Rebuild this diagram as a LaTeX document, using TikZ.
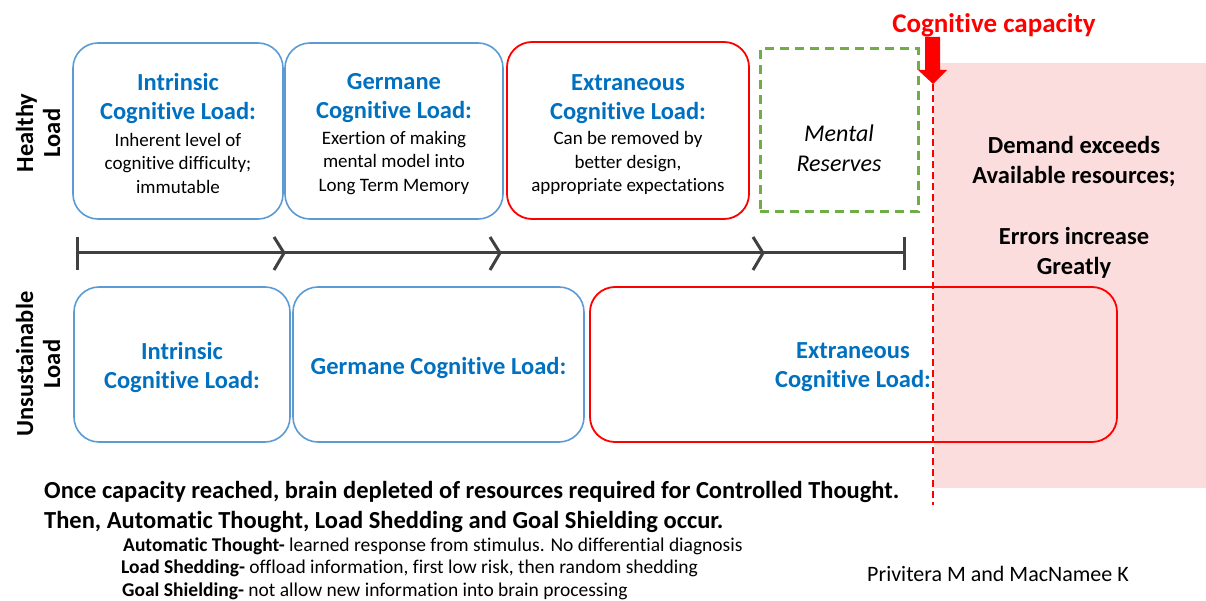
\documentclass[tikz,border=0pt]{standalone}
\usepackage{fontspec}
\setmainfont{Carlito}[Ligatures=NoCommon]
\definecolor{boxblue}{HTML}{5B9BD5}
\definecolor{txtblue}{HTML}{0070C0}
\definecolor{capred}{HTML}{FF0000}
\definecolor{resgreen}{HTML}{70AD47}
\definecolor{bandpink}{RGB}{252,221,221}
\definecolor{linegray}{HTML}{404040}
\begin{document}
\begin{tikzpicture}[x=1pt,y=-1pt,
  bluebox/.style={draw=boxblue, line width=1.6pt, rounded corners=25pt, inner sep=0pt},
  redbox/.style={draw=capred, line width=1.8pt, rounded corners=25pt, inner sep=0pt},
  resbox/.style={draw=resgreen, line width=3pt, dash pattern=on 9pt off 6pt, inner sep=0pt},
  ttl/.style={text=txtblue, font=\fontsize{24.5}{29}\selectfont\bfseries, align=center, inner sep=0pt},
  bdy/.style={font=\fontsize{19}{23.5}\selectfont, align=center, inner sep=0pt},
  side/.style={font=\fontsize{24.5}{27}\selectfont\bfseries, align=center, inner sep=0pt, rotate=90},
  bigtxt/.style={font=\fontsize{24.5}{30}\selectfont\bfseries, align=center, inner sep=0pt},
  smalltxt/.style={font=\fontsize{19.5}{22.5}\selectfont, anchor=west, inner sep=0pt},
  tline/.style={draw=linegray, line width=3pt},
  capline/.style={draw=capred, line width=2pt, dash pattern=on 7pt off 4pt}
]
\useasboundingbox (0,0) rectangle (1206,601);
% pink band
\fill[bandpink] (934,63) rectangle (1206,488);

% top row
\node[bluebox, minimum width=210pt, minimum height=176pt] (h1) at (178,131) {};
\node[bluebox, minimum width=218pt, minimum height=176pt] (h2) at (394,131) {};
\node[redbox, minimum width=242pt, minimum height=177pt] (h3) at (628,130.5) {};
\node[resbox, minimum width=158pt, minimum height=163pt] (h4) at (839,130.5) {};

\node[ttl] (h1t) at (178,98.5) {Intrinsic\\Cognitive Load:};
\node[bdy] (h1b) at (178,163) {Inherent level of\\cognitive difficulty;\\immutable};
\node[ttl] (h2t) at (394,98.5) {Germane\\Cognitive Load:};
\node[bdy] (h2b) at (394,163) {Exertion of making\\mental model into\\Long Term Memory};
\node[ttl] (h3t) at (628,99) {Extraneous\\Cognitive Load:};
\node[bdy] (h3b) at (628,163) {Can be removed by\\better design,\\appropriate expectations};
\node[font=\fontsize{24}{30}\selectfont\itshape, align=center, inner sep=0pt] (h4t) at (839,148) {Mental\\Reserves};

% side labels
\node[side] (hl) at (38,133) {Healthy\\Load};
\node[side] (ul) at (38,364) {Unsustainable\\Load};

% timeline
\coordinate (tl0) at (77,253);
\coordinate (tl1) at (904,253);
\draw[tline] (tl0) -- (tl1);
\draw[tline] (77,237) -- (77,270);
\draw[tline] (904,237) -- (904,270);
\draw[tline, line join=miter] (274,237) -- (284,253) -- (274,270);
\draw[tline, line join=miter] (490,237) -- (500,253) -- (490,270);
\draw[tline, line join=miter] (753,237) -- (763,253) -- (753,270);

% bottom row
\node[bluebox, minimum width=216pt, minimum height=155pt] (u1) at (182,364.5) {};
\node[bluebox, minimum width=291pt, minimum height=155pt] (u2) at (438.5,364.5) {};
\node[redbox, minimum width=527pt, minimum height=155pt] (u3) at (853.5,364.5) {};
\node[ttl] (u1t) at (182,367) {Intrinsic\\Cognitive Load:};
\node[ttl] (u2t) at (438.5,368) {Germane Cognitive Load:};
\node[ttl] (u3t) at (853,367.5) {Extraneous\\Cognitive Load:};

% right band text
\node[bigtxt] (d1) at (1074,162) {Demand exceeds\\Available resources;};
\node[bigtxt] (d2) at (1074,252.5) {Errors increase\\Greatly};

% capacity line and arrow
\coordinate (ct) at (933,84);
\coordinate (cb) at (933,505);
\draw[capline] (ct) -- (cb);
\node[text=capred, font=\fontsize{27}{30}\selectfont\bfseries, inner sep=0pt] (cap) at (994,25) {Cognitive capacity};
\fill[capred] (925,37) -- (940,37) -- (940,70) -- (947,70) -- (ct) -- (918,70) -- (925,70) -- cycle;

% bottom text
\node[font=\fontsize{24.5}{30}\selectfont\bfseries, anchor=west, inner sep=0pt] (n1) at (44,492) {Once capacity reached, brain depleted of resources required for Controlled Thought.};
\node[font=\fontsize{24.5}{30}\selectfont\bfseries, anchor=west, inner sep=0pt] (n2) at (44,522) {Then, Automatic Thought, Load Shedding and Goal Shielding occur.};
\node[smalltxt] (s1) at (123,546) {\textbf{Automatic Thought-} learned response from stimulus. No differential diagnosis};
\node[smalltxt] (s2) at (121,568) {\textbf{Load Shedding-} offload information, first low risk, then random shedding};
\node[smalltxt] (s3) at (122,591) {\textbf{Goal Shielding-} not allow new information into brain processing};
\node[font=\fontsize{22}{26}\selectfont, anchor=west, inner sep=0pt] (auth) at (867,574) {Privitera M and MacNamee K};
\end{tikzpicture}
\end{document}
